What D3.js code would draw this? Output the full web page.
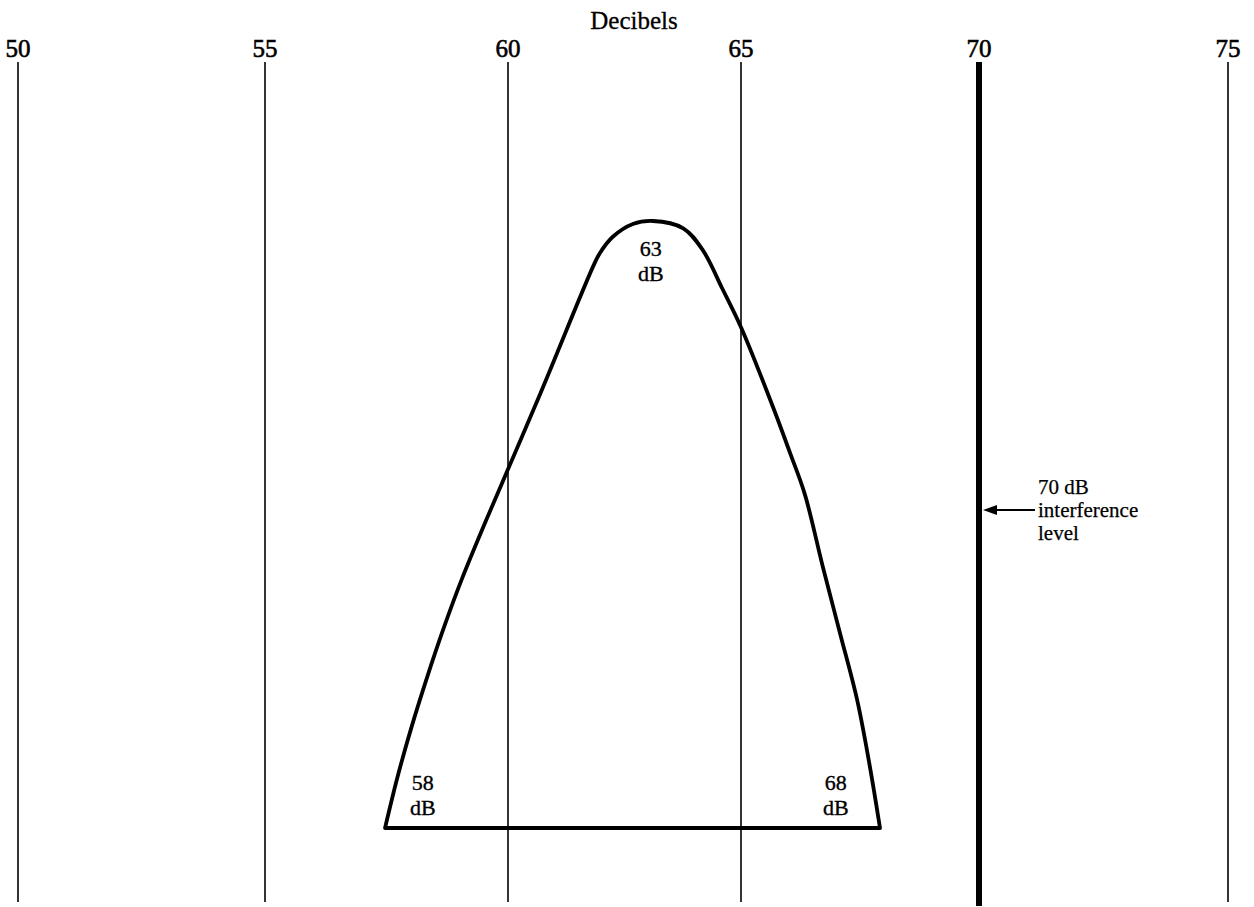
<!DOCTYPE html>
<html>
<head>
<meta charset="utf-8">
<script src="https://cdn.jsdelivr.net/npm/d3@7"></script>
<style>
  html, body { margin: 0; padding: 0; background: #fff; }
  svg { display: block; }
  text { font-family: "Liberation Serif", "DejaVu Serif", serif; fill: #000; }
</style>
</head>
<body>
<svg id="chart" width="1254" height="907"></svg>
<script>
// ---- Data ----
const tickValues = [50, 55, 60, 65, 70, 75];
const tickLabels = ["50", "55", "60", "65", "70", "75"];
const interferenceLevel = 70;
// Distribution curve: decibel value and relative level (0 = baseline, 100 = peak)
const curveDb    = [57.47, 57.72, 58.01, 58.33, 58.68, 59.06, 59.55, 60.69, 61.82, 61.97, 62.25, 62.68, 63.11, 63.76, 64.18, 64.59, 65.00, 65.67, 66.03, 66.34, 66.72, 67.08, 67.44, 67.71, 67.92];
const curveLevel = [0,     8.2,   16.5,  24.7,  33.0,  41.2,  50.7,  71.5,  92.4,  94.7,  97.4,  99.5,  100,   98.8,  95.2,  89.0,  82.5,  69.4,  61.8,  55.0,  43.0,  32.1,  21.1,  10.0,  0];
const pointLabelDb = [63, 58, 68];
const pointLabelText = [["63", "dB"], ["58", "dB"], ["68", "dB"]];
const axisTitle = "Decibels";
const annotationLines = ["70 dB", "interference", "level"];

// ---- Scales ----
const svg = d3.select("#chart");
const x = d3.scaleLinear().domain(tickValues).range([18, 265, 508, 741, 979, 1228]);
const y = d3.scaleLinear().domain([0, 100]).range([828, 221]);

const lineTop = 62, lineBottom = 902;

// Axis title
svg.append("text")
  .attr("x", 634).attr("y", 29)
  .attr("text-anchor", "middle")
  .attr("font-size", 25)
  .attr("stroke", "#000").attr("stroke-width", 0.3)
  .text(axisTitle);

// Tick labels
svg.selectAll(".tick-label").data(tickValues).enter().append("text")
  .attr("class", "tick-label")
  .attr("x", d => x(d)).attr("y", 57)
  .attr("text-anchor", "middle")
  .attr("font-size", 25)
  .attr("stroke", "#000").attr("stroke-width", 0.6)
  .text((d, i) => tickLabels[i]);

// Vertical grid lines
svg.selectAll(".grid").data(tickValues.filter(d => d !== interferenceLevel)).enter().append("line")
  .attr("class", "grid")
  .attr("x1", d => x(d)).attr("x2", d => x(d))
  .attr("y1", lineTop).attr("y2", lineBottom)
  .attr("stroke", "#000").attr("stroke-width", 1.6);

// Interference line (thick)
svg.append("line")
  .attr("x1", x(interferenceLevel)).attr("x2", x(interferenceLevel))
  .attr("y1", lineTop).attr("y2", lineBottom + 4)
  .attr("stroke", "#000").attr("stroke-width", 6);

// Distribution curve
const pts = curveDb.map((d, i) => [d, curveLevel[i]]);
const line = d3.line().x(d => x(d[0])).y(d => y(d[1])).curve(d3.curveCatmullRom.alpha(0.5));
svg.append("path")
  .attr("d", line(pts) + "Z")
  .attr("fill", "none")
  .attr("stroke", "#000")
  .attr("stroke-width", 3.8)
  .attr("stroke-linejoin", "round");

// Point labels (placed inside the shape)
const labelDx = [3, 12, -48];
const labelY = [256, 790, 790];
pointLabelDb.forEach((db, k) => {
  const t = svg.append("text")
    .attr("text-anchor", "middle")
    .attr("font-size", 22)
    .attr("stroke", "#000").attr("stroke-width", 0.35);
  pointLabelText[k].forEach((s, i) => {
    t.append("tspan")
      .attr("x", x(db) + labelDx[k])
      .attr("y", labelY[k] + i * 25)
      .text(s);
  });
});

// Annotation arrow
const arrowY = 510;
const ax0 = x(interferenceLevel) + 4, ax1 = 1035;
svg.append("line")
  .attr("x1", ax0 + 10).attr("x2", ax1)
  .attr("y1", arrowY).attr("y2", arrowY)
  .attr("stroke", "#000").attr("stroke-width", 2.2);
svg.append("path")
  .attr("d", d3.line()([[ax0, arrowY], [ax0 + 14, arrowY - 5], [ax0 + 14, arrowY + 5]]) + "Z")
  .attr("fill", "#000");

const ann = svg.append("text").attr("font-size", 21)
  .attr("stroke", "#000").attr("stroke-width", 0.25);
annotationLines.forEach((s, i) => {
  ann.append("tspan").attr("x", 1038).attr("y", 494 + i * 23).text(s);
});
</script>
</body>
</html>
